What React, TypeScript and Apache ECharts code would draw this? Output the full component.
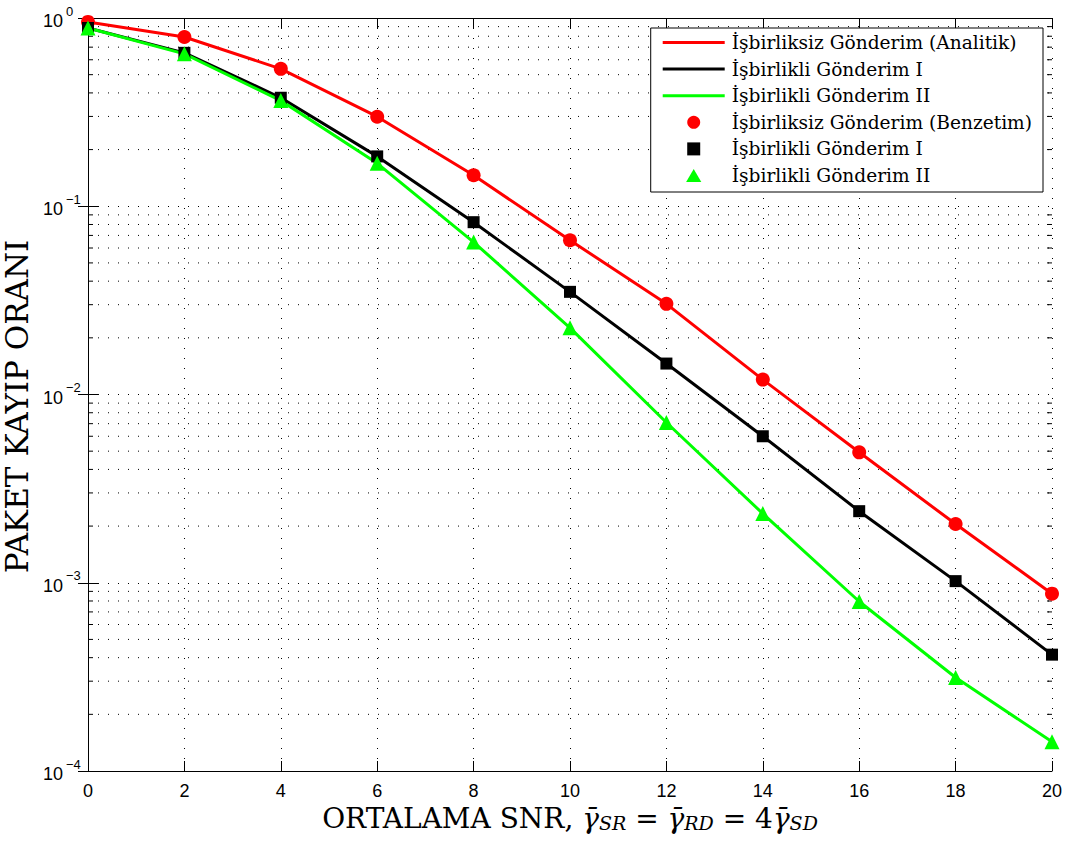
import React, { useEffect, useRef } from "react";
import * as echarts from "echarts";

const snr = [0, 2, 4, 6, 8, 10, 12, 14, 16, 18, 20];
const analytic = [0.953, 0.793, 0.537, 0.299, 0.146, 0.066, 0.0303, 0.012, 0.00493, 0.00205, 0.000875];
const coop1 = [0.885, 0.653, 0.377, 0.184, 0.0823, 0.0351, 0.0146, 0.006, 0.0024, 0.00102, 0.000415];
const coop2 = [0.885, 0.645, 0.364, 0.169, 0.0645, 0.0226, 0.0071, 0.00233, 0.000795, 0.000314, 0.000143];
const simAnalytic = [0.953, 0.793, 0.537, 0.299, 0.146, 0.066, 0.0303, 0.012, 0.00493, 0.00205, 0.000875];
const simCoop1 = [0.885, 0.653, 0.377, 0.184, 0.0823, 0.0351, 0.0146, 0.006, 0.0024, 0.00102, 0.000415];
const simCoop2 = [0.885, 0.645, 0.364, 0.169, 0.0645, 0.0226, 0.0071, 0.00233, 0.000795, 0.000314, 0.000143];

const names = [
  "İşbirliksiz Gönderim (Analitik)",
  "İşbirlikli Gönderim I",
  "İşbirlikli Gönderim II",
  "İşbirliksiz Gönderim (Benzetim)",
  "İşbirlikli Gönderim I ",
  "İşbirlikli Gönderim II ",
];
const decades = [1e-4, 1e-3, 1e-2, 1e-1];
const minorMultipliers = [2, 3, 4, 5, 6, 7, 8, 9];
const xTicks = [0, 20, 2];
const yRange = [1e-4, 1];

const SERIF = "'DejaVu Serif', 'Liberation Serif', serif";
const SANS = "'Liberation Sans', Arial, sans-serif";

const LINE_ICON = "path://M0,0L62,0L62,3L0,3Z";
const SQUARE_ICON = "path://M0,0L12,0L12,12L0,12Z";
const TRI_ICON = "path://M7,0L14,12L0,12Z";

export default function App() {
  const ref = useRef<HTMLDivElement>(null);
  useEffect(() => {
    const chart = echarts.init(ref.current!, null, { renderer: "svg" });
    const minorVals: number[][] = [];
    decades.forEach((d) => minorMultipliers.forEach((m) => minorVals.push([0, d * m])));
    const pair = (ys: number[]) => snr.map((x, i) => [x, ys[i]]);
    const expLabel = (v: number) => {
      const e = Math.round(Math.log10(v));
      return e < 0 ? "\u2212" + String(-e) : String(e);
    };
    const xAxisBase = {
      type: "value",
      min: xTicks[0],
      max: xTicks[1],
      interval: xTicks[2],
      axisLine: { show: true, lineStyle: { color: "#000", width: 1 } },
      axisTick: { show: true, inside: true, length: 10, lineStyle: { color: "#000" } },
    };
    const yAxisBase = {
      type: "log",
      logBase: 10,
      min: yRange[0],
      max: yRange[1],
      axisLine: { show: true, lineStyle: { color: "#000", width: 1 } },
      axisTick: { show: true, inside: true, length: 10, lineStyle: { color: "#000" } },
    };
    chart.setOption({
      animation: false,
      backgroundColor: "#fff",
      grid: { left: 88, right: 16, top: 18, bottom: 71, containLabel: false, outerBoundsMode: "none" },
      xAxis: [
        {
          ...xAxisBase,
          position: "bottom",
          axisLabel: { color: "#000", fontFamily: SANS, fontSize: 18, margin: 11 },
          splitLine: { show: true, lineStyle: { color: "#000", width: 1, type: [1, 9] } },
          name: "{n|ORTALAMA SNR, }{g|γ̄}{sub|SR}{n| = }{g|γ̄}{sub|RD}{n| = 4}{g|γ̄}{sub|SD}",
          nameLocation: "middle",
          nameGap: 27,
          nameTextStyle: {
            rich: {
              n: { fontFamily: SERIF, fontSize: 28, color: "#000", verticalAlign: "bottom", lineHeight: 33 },
              g: { fontFamily: SERIF, fontSize: 28, fontStyle: "italic", color: "#000", verticalAlign: "bottom", lineHeight: 33 },
              sub: { fontFamily: SERIF, fontSize: 19, fontStyle: "italic", color: "#000", verticalAlign: "bottom", lineHeight: 27 },
            },
          },
        },
        { ...xAxisBase, position: "top", axisLabel: { show: false }, splitLine: { show: false } },
      ],
      yAxis: [
        {
          ...yAxisBase,
          position: "left",
          axisLabel: {
            formatter: () => "10",
            margin: 25,
            fontSize: 18,
            fontFamily: SANS,
            color: "#000",
            verticalAlign: "top",
            lineHeight: 6,
          },
          splitLine: { show: true, lineStyle: { color: "#000", width: 1, type: [1, 9] } },
          name: "PAKET KAYIP ORANI",
          nameLocation: "middle",
          nameGap: 43,
          nameRotate: 90,
          nameTextStyle: { fontFamily: SERIF, fontSize: 31, color: "#000", padding: [0, 24, 0, 0] },
        },
        { ...yAxisBase, position: "right", axisLabel: { show: false }, splitLine: { show: false } },
        {
          ...yAxisBase,
          position: "left",
          axisLine: { show: false },
          axisTick: { show: false },
          splitLine: { show: false },
          axisLabel: {
            formatter: expLabel,
            margin: 22,
            align: "left",
            verticalAlign: "bottom",
            lineHeight: 14,
            fontSize: 13,
            fontFamily: SANS,
            color: "#000",
          },
        },
      ],
      legend: {
        orient: "vertical",
        right: 25,
        top: 28,
        padding: [5, 11, 7, 12],
        borderColor: "#000",
        borderWidth: 1,
        borderRadius: 0,
        backgroundColor: "#fff",
        itemWidth: 62,
        itemHeight: 13,
        itemGap: 7.6,
        symbolKeepAspect: true,
        selectedMode: false,
        data: [
          { name: names[0], icon: LINE_ICON },
          { name: names[1], icon: LINE_ICON },
          { name: names[2], icon: LINE_ICON },
          { name: names[3], icon: "circle" },
          { name: names[4], icon: SQUARE_ICON },
          { name: names[5], icon: TRI_ICON },
        ],
        formatter: (n: string) => n.trim(),
        textStyle: { fontFamily: SERIF, fontSize: 18.6, color: "#000", padding: [0, 0, 0, 2] },
      },
      series: [
        {
          type: "custom",
          name: "minorgrid",
          coordinateSystem: "cartesian2d",
          data: minorVals,
          clip: false,
          silent: true,
          z: 1,
          renderItem: (params: any, api: any) => {
            const p = api.coord([0, api.value(1)]);
            const cs = params.coordSys;
            const y = p[1];
            return {
              type: "group",
              children: [
                { type: "line", shape: { x1: cs.x, y1: y, x2: cs.x + cs.width, y2: y }, style: { stroke: "#000", lineWidth: 1, lineDash: [1, 9] } },
                { type: "line", shape: { x1: cs.x, y1: y, x2: cs.x + 5, y2: y }, style: { stroke: "#000", lineWidth: 1 } },
                { type: "line", shape: { x1: cs.x + cs.width - 5, y1: y, x2: cs.x + cs.width, y2: y }, style: { stroke: "#000", lineWidth: 1 } },
              ],
            };
          },
        },
        { type: "line", name: names[0], data: pair(analytic), symbol: "none", clip: false, lineStyle: { color: "#ff0000", width: 3 }, itemStyle: { color: "#ff0000" }, z: 3 },
        { type: "line", name: names[1], data: pair(coop1), symbol: "none", clip: false, lineStyle: { color: "#000000", width: 3 }, itemStyle: { color: "#000000" }, z: 3 },
        { type: "line", name: names[2], data: pair(coop2), symbol: "none", clip: false, lineStyle: { color: "#00ff00", width: 3 }, itemStyle: { color: "#00ff00" }, z: 3 },
        { type: "scatter", name: names[3], data: pair(simAnalytic), symbol: "circle", symbolSize: 14, clip: false, itemStyle: { color: "#ff0000", opacity: 1 }, z: 4 },
        { type: "scatter", name: names[4], data: pair(simCoop1), symbol: "rect", symbolSize: 12, clip: false, itemStyle: { color: "#000000", opacity: 1 }, z: 4 },
        { type: "scatter", name: names[5], data: pair(simCoop2), symbol: "triangle", symbolSize: 15, clip: false, itemStyle: { color: "#00ff00", opacity: 1 }, z: 4 },
      ],
    });
    return () => chart.dispose();
  }, []);
  return <div ref={ref} style={{ position: "absolute", left: 0, top: 0, width: 1068, height: 842 }} />;
}
